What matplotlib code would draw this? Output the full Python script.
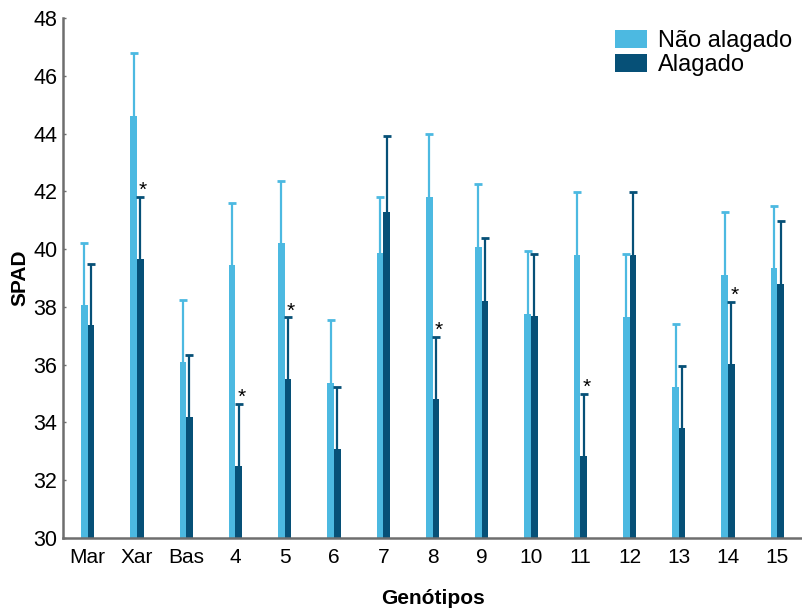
import numpy as np
import matplotlib.pyplot as plt

plt.rcParams['font.family'] = ['Liberation Sans', 'DejaVu Sans']

# genótipos avaliados
genotipos = ['Mar', 'Xar', 'Bas', '4', '5', '6', '7', '8', '9', '10',
             '11', '12', '13', '14', '15']

# médias de SPAD
nao_alagado = [38.05, 44.6, 36.1, 39.45, 40.2, 35.37, 39.88, 41.8, 40.09,
               37.76, 39.8, 37.66, 35.23, 39.1, 39.36]
alagado = [37.38, 39.65, 34.2, 32.5, 35.5, 33.08, 41.27, 34.8, 38.2,
           37.7, 32.84, 39.8, 33.8, 36.03, 38.8]

# limite superior do desvio
nao_alagado_sup = [40.2, 46.78, 38.25, 41.6, 42.36, 37.55, 41.8, 43.97, 42.27,
                   39.95, 41.96, 39.84, 37.42, 41.3, 41.5]
alagado_sup = [39.5, 41.82, 36.35, 34.65, 37.65, 35.23, 43.9, 36.97, 40.4,
               39.84, 34.99, 41.96, 35.96, 38.18, 40.98]

# genótipos com diferença significativa
signif = ['Xar', '4', '5', '8', '11', '14']

cor_claro = '#4cb9e1'
cor_escuro = '#065077'

x = np.arange(len(genotipos))
w = 0.135

fig = plt.figure(figsize=(8.02, 6.08), dpi=100)
ax = fig.add_axes([63 / 802, 70 / 608, 739 / 802, 520 / 608])

m1 = np.array(nao_alagado)
m2 = np.array(alagado)
s1 = np.array(nao_alagado_sup)
s2 = np.array(alagado_sup)

ax.bar(x - w / 2, m1, width=w, color=cor_claro, label='Não alagado', zorder=2)
ax.bar(x + w / 2, m2, width=w, color=cor_escuro, label='Alagado', zorder=2)

# barras de erro só para cima, com traço no topo
for pos, m, s, cor in [(x - w / 2, m1, s1, cor_claro), (x + w / 2, m2, s2, cor_escuro)]:
    ax.vlines(pos, m, s, colors=cor, linewidth=1.6, zorder=3)
    ax.plot(pos, s, linestyle='none', marker='_', markersize=6,
            markeredgewidth=2, color=cor, zorder=3)

# asteriscos acima das barras de erro
for i, g in enumerate(genotipos):
    if g in signif:
        ax.text(x[i] + w / 2 + 0.06, alagado_sup[i] - 0.12, '*', ha='center',
                va='bottom', fontsize=15, color='black')

ax.set_xlim(-0.5, len(genotipos) - 0.5)
ax.set_ylim(30, 48)
ax.set_yticks(np.arange(30, 49, 2))
ax.set_xticks(x)
ax.set_xticklabels(genotipos)

for s in ['top', 'right']:
    ax.spines[s].set_visible(False)
for s in ['left', 'bottom']:
    ax.spines[s].set_color('#6e6e6e')
    ax.spines[s].set_linewidth(1.8)

ax.tick_params(axis='y', direction='in', length=2, width=1, color='#6e6e6e',
               labelsize=15.5, pad=4)
ax.tick_params(axis='x', length=0, labelsize=15, pad=7)

ax.set_xlabel('Genótipos', fontsize=15, fontweight='bold', labelpad=16)
ax.set_ylabel('SPAD', fontsize=15, fontweight='bold', labelpad=3)

ax.legend(loc='upper left', bbox_to_anchor=(0.731, 1.0), frameon=False,
          fontsize=17, handlelength=1.36, handleheight=0.8, handletextpad=0.45,
          labelspacing=0.08, borderpad=0)

plt.savefig('out.png', dpi=100)
